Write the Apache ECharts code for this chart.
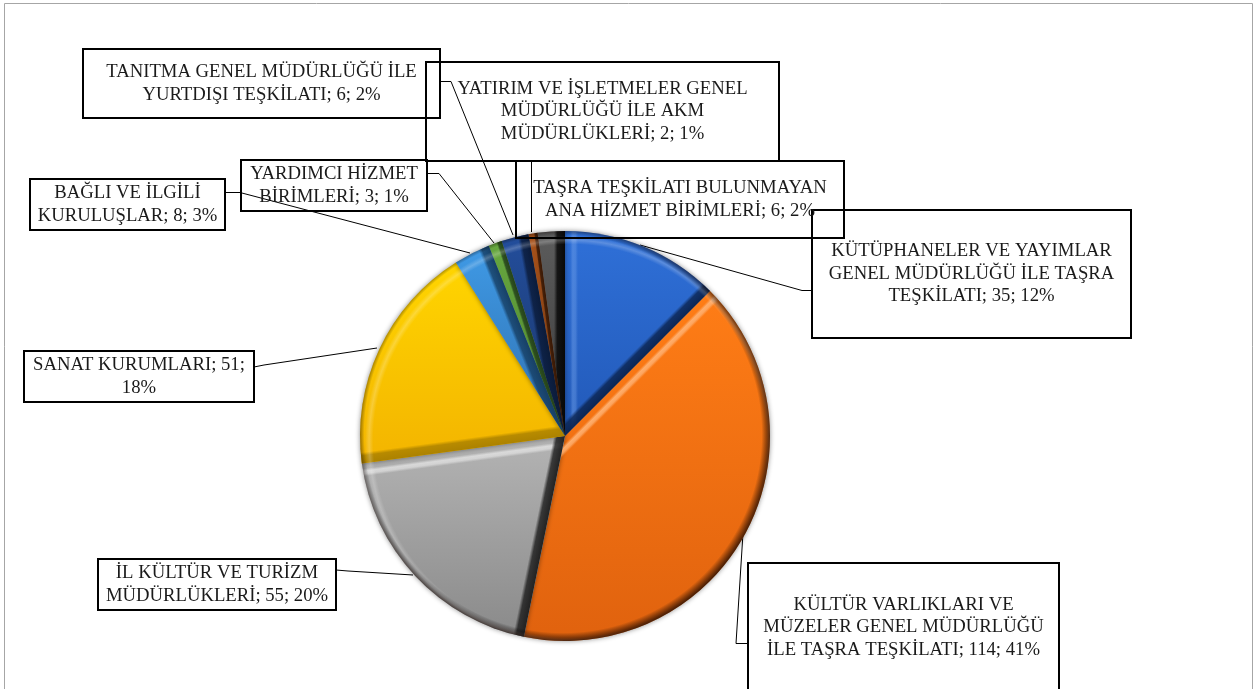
<!DOCTYPE html>
<html>
<head>
<meta charset="utf-8">
<style>html,body{margin:0;padding:0;background:#fff}#myChart{width:1256px;height:689px}</style>
<script src="https://cdn.jsdelivr.net/npm/echarts@6/dist/echarts.min.js"></script>
</head>
<body>
<div id="myChart"></div>
<script>
var categories = [
    'KÜTÜPHANELER VE YAYIMLAR\nGENEL MÜDÜRLÜĞÜ İLE TAŞRA\nTEŞKİLATI',
    'KÜLTÜR VARLIKLARI VE\nMÜZELER GENEL MÜDÜRLÜĞÜ\nİLE TAŞRA TEŞKİLATI',
    'İL KÜLTÜR VE TURİZM\nMÜDÜRLÜKLERİ',
    'SANAT KURUMLARI',
    'BAĞLI VE İLGİLİ\nKURULUŞLAR',
    'YARDIMCI HİZMET\nBİRİMLERİ',
    'TANITMA GENEL MÜDÜRLÜĞÜ İLE\nYURTDIŞI TEŞKİLATI',
    'YATIRIM VE İŞLETMELER GENEL\nMÜDÜRLÜĞÜ İLE AKM\nMÜDÜRLÜKLERİ',
    'TAŞRA TEŞKİLATI BULUNMAYAN\nANA HİZMET BİRİMLERİ'
];
var values = [35, 114, 55, 51, 8, 3, 6, 2, 6];
var percents = [12, 41, 20, 18, 3, 1, 2, 1, 2];

// slice colours: face top, face bottom, light edge, dark edge
var faceTop = ['#2f70d8', '#ff7d16', '#b4b4b4', '#ffd500', '#3f9ae6', '#67a83f', '#234e9c', '#a8521a', '#5c5c5c'];
var faceBottom = ['#2259b8', '#e0620e', '#8a8a8a', '#f3b400', '#2f6fae', '#4c7f2e', '#1a3568', '#6e3410', '#3a3a3a'];
var edgeLight = ['#6f9fe8', '#ffb070', '#f4f4f4', '#ffe97a', '#8cc4f2', '#9fd07a', '#4f78bd', '#d88a55', '#9a9a9a'];
var edgeDark = ['#0b2450', '#7a3306', '#1c1c1c', '#a87f00', '#163e63', '#23401a', '#0a1a38', '#351705', '#050505'];

// label boxes [left, top, right, bottom] in page pixels
var boxes = [
    [812, 210, 1131, 338],
    [748, 563, 1059, 692],
    [98, 559, 336, 610],
    [24, 351, 254, 402],
    [30, 179, 225, 230],
    [241, 160, 427, 211],
    [83, 49, 440, 118],
    [426, 62, 779, 161],
    [516, 161, 844, 238]
];
// text offset inside each box, the reference does not centre them exactly
var textShift = [1, 1, -2, 1, 1, 1, 1, 1, 1];
var leaders = [
    [[812, 290.5], [802, 290.5], [640, 245]],
    [[748, 643.5], [736, 643.5], [743, 533]],
    [[336, 570], [348, 571], [413, 575]],
    [[254, 367], [264, 365], [377, 348]],
    [[225, 192.5], [240, 192.5], [470, 253]],
    [[427, 173.5], [439, 173.5], [494, 243]],
    [[440, 81.5], [451, 81.5], [513, 235]],
    [[531.5, 161], [531.5, 175], [531.5, 232]],
    null
];

var cx = 565, cy = 436, R = 205;
var lineH = 22.5;
var total = values.reduce(function (a, b) { return a + b }, 0);

// start and end angle of each slice, clockwise from the top, in radians
var angles = [];
values.reduce(function (acc, v) {
    angles.push([acc / total * 2 * Math.PI, (acc + v) / total * 2 * Math.PI]);
    return acc + v;
}, 0);

function edgeGradient(a, inward, width, stops) {
    var nx = Math.cos(a) * inward, ny = Math.sin(a) * inward;
    return {
        type: 'linear', global: true,
        x: cx, y: cy, x2: cx + nx * width, y2: cy + ny * width,
        colorStops: stops
    };
}

// how much each radial edge of slice i faces the lower right
function edgeFacing(i) {
    return [
        -(Math.cos(angles[i][0]) + Math.sin(angles[i][0])),
        Math.cos(angles[i][1]) + Math.sin(angles[i][1])
    ];
}

function darkBand(i) {
    var f = edgeFacing(i);
    var useEnd = f[1] >= f[0];
    if (Math.max(f[0], f[1]) <= 0) return 'rgba(0,0,0,0)';
    var w = Math.min(11, (angles[i][1] - angles[i][0]) * R * 0.4);
    var c = edgeDark[i];
    return edgeGradient(angles[i][useEnd ? 1 : 0], useEnd ? -1 : 1, w, [
        { offset: 0, color: echarts.color.modifyAlpha(c, 0.95) },
        { offset: 0.7, color: echarts.color.modifyAlpha(c, 0.8) },
        { offset: 1, color: echarts.color.modifyAlpha(c, 0) }
    ]);
}

function lightBand(i) {
    var f = edgeFacing(i);
    var useEnd = -f[1] >= -f[0];
    var facing = -f[useEnd ? 1 : 0];
    // only the wide slices with an edge turned to the light get the ridge
    if (values[i] < 30 || facing < 0.5) return 'rgba(0,0,0,0)';
    var strength = 0.95 * Math.min(1, Math.pow(facing / 1.41, 2));
    var c = edgeLight[i];
    return edgeGradient(angles[i][useEnd ? 1 : 0], useEnd ? -1 : 1, 13, [
        { offset: 0, color: echarts.color.modifyAlpha(c, 0) },
        { offset: 0.4, color: echarts.color.modifyAlpha(c, 0) },
        { offset: 0.6, color: echarts.color.modifyAlpha(c, strength) },
        { offset: 0.8, color: echarts.color.modifyAlpha(c, strength * 0.85) },
        { offset: 1, color: echarts.color.modifyAlpha(c, 0) }
    ]);
}

function layer(colorOf, extra) {
    var s = {
        type: 'pie',
        silent: true,
        center: [cx, cy],
        radius: R,
        startAngle: 90,
        clockwise: true,
        animation: false,
        label: { show: false },
        labelLine: { show: false },
        data: values.map(function (v, i) {
            return { value: v, name: categories[i], itemStyle: { color: colorOf(i) } };
        })
    };
    for (var k in extra) s[k] = extra[k];
    return s;
}

var rimDark = {
    type: 'radial', global: true, x: cx - 2, y: cy - 2, r: R + 3,
    colorStops: [
        { offset: 0, color: 'rgba(0,0,0,0)' },
        { offset: 0.955, color: 'rgba(0,0,0,0)' },
        { offset: 0.985, color: 'rgba(20,5,0,0.55)' },
        { offset: 1, color: 'rgba(20,5,0,0.8)' }
    ]
};
var rimLight = {
    type: 'radial', global: true, x: cx + 5, y: cy + 5, r: R + 1,
    colorStops: [
        { offset: 0, color: 'rgba(255,255,255,0)' },
        { offset: 0.955, color: 'rgba(255,255,255,0)' },
        { offset: 0.975, color: 'rgba(255,255,255,0.22)' },
        { offset: 0.995, color: 'rgba(255,255,255,0)' },
        { offset: 1, color: 'rgba(255,255,255,0)' }
    ]
};

var myChart = echarts.init(document.getElementById('myChart'));
var option = {
    backgroundColor: '#fff',
    animation: false,
    graphic: [{
        type: 'rect',
        silent: true,
        shape: { x: 4.5, y: 3.5, width: 1248, height: 700 },
        style: { fill: 'none', stroke: '#a6a6a6', lineWidth: 1 }
    }],
    series: [
        layer(function (i) {
            return {
                type: 'linear', x: 0, y: 0, x2: 0, y2: 1,
                colorStops: [{ offset: 0, color: faceTop[i] }, { offset: 1, color: faceBottom[i] }]
            };
        }, { itemStyle: { shadowBlur: 5, shadowColor: 'rgba(0,0,0,0.45)' } }),
        layer(lightBand),
        layer(darkBand),
        layer(function () { return rimLight; }),
        layer(function () { return rimDark; }),
        layer(function () { return 'rgba(0,0,0,0)'; }, {
            label: {
                show: true,
                position: 'outside',
                fontFamily: 'Liberation Serif',
                fontSize: 18.7,
                lineHeight: lineH,
                color: '#1a1a1a',
                borderColor: '#000',
                borderWidth: 2,
                overflow: 'none',
                formatter: function (p) {
                    var sep = p.dataIndex === 3 ? ';\n' : '; ';
                    return p.name + '; ' + p.value + sep + percents[p.dataIndex] + '%';
                }
            },
            labelLine: { show: true, lineStyle: { color: '#000', width: 1 } },
            avoidLabelOverlap: false,
            labelLayout: function (p) {
                var b = boxes[p.dataIndex];
                var out = {
                    x: (b[0] + b[2]) / 2,
                    y: (b[1] + b[3]) / 2,
                    align: 'center',
                    verticalAlign: 'middle'
                };
                if (leaders[p.dataIndex]) out.labelLinePoints = leaders[p.dataIndex];
                return out;
            },
            data: values.map(function (v, i) {
                var b = boxes[i];
                var lines = categories[i].split('\n').length + (i === 3 ? 1 : 0);
                var textH = lines * lineH;
                var pad = (b[3] - b[1] - textH) / 2;
                return {
                    value: v,
                    name: categories[i],
                    itemStyle: { color: 'rgba(0,0,0,0)' },
                    label: { width: b[2] - b[0], height: textH, padding: [pad + textShift[i], 0, pad - textShift[i], 0] },
                    labelLine: { show: !!leaders[i] }
                };
            })
        })
    ]
};
myChart.setOption(option);
</script>
</body>
</html>
